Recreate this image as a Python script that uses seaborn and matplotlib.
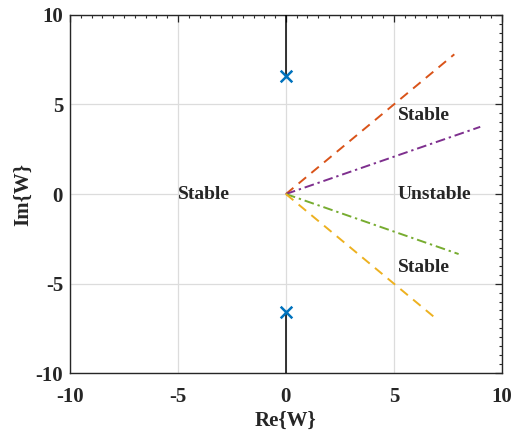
import matplotlib
matplotlib.use("Agg")
import matplotlib.pyplot as plt
import seaborn as sns
import numpy as np
from matplotlib.ticker import MultipleLocator

# Data
pole_re = [0, 0]
pole_im = [6.6, -6.6]
branch_up_re = [0, 0]
branch_up_im = [6.6, 10]
branch_dn_re = [0, 0]
branch_dn_im = [-6.6, -10]
orange_re = [0, 7.8]
orange_im = [0, 7.8]
purple_re = [0, 9.0]
purple_im = [0, 3.75]
green_re = [0, 8.0]
green_im = [0, -3.35]
yellow_re = [0, 7.0]
yellow_im = [0, -7.0]
labels = ["Stable", "Stable", "Unstable", "Stable"]
label_re = [-3.8, 6.4, 6.9, 6.4]
label_im = [0, 4.4, 0, -4.1]

sns.set_theme(style="white")
plt.rcParams['font.family'] = ['Liberation Serif', 'DejaVu Serif']
plt.rcParams['font.weight'] = 'bold'
plt.rcParams['axes.unicode_minus'] = False

fig = plt.figure(figsize=(5.11, 4.38), dpi=100)
ax = fig.add_axes([0.137, 0.148, 0.845, 0.818])

ax.grid(True, which='major', color='#dcdcdc', linewidth=0.9)
ax.set_axisbelow(True)

kw = dict(ax=ax, sort=False, estimator=None)
sns.lineplot(x=branch_up_re, y=branch_up_im, color='black', linewidth=1.1, zorder=3, **kw)
sns.lineplot(x=branch_dn_re, y=branch_dn_im, color='black', linewidth=1.1, zorder=3, **kw)
sns.lineplot(x=orange_re, y=orange_im, color='#D95319', linewidth=1.4, **kw)
ax.lines[-1].set_linestyle((0, (5, 3.5)))
sns.lineplot(x=purple_re, y=purple_im, color='#7E2F8E', linewidth=1.4, **kw)
ax.lines[-1].set_linestyle((0, (5, 2, 1.2, 2)))
sns.lineplot(x=green_re, y=green_im, color='#77AC30', linewidth=1.4, **kw)
ax.lines[-1].set_linestyle((0, (5, 2, 1.2, 2)))
sns.lineplot(x=yellow_re, y=yellow_im, color='#EDB120', linewidth=1.4, **kw)
ax.lines[-1].set_linestyle((0, (5, 3.5)))
sns.scatterplot(x=pole_re, y=pole_im, ax=ax, marker='x', color='#0072BD', s=70, linewidth=1.8, zorder=5)

for t, xr, yi in zip(labels, label_re, label_im):
    ax.text(xr, yi, t, ha='center', va='center', fontsize=14, fontweight='bold')

ax.set_xlim(-10, 10)
ax.set_ylim(-10, 10)
ax.xaxis.set_major_locator(MultipleLocator(5))
ax.yaxis.set_major_locator(MultipleLocator(5))
ax.xaxis.set_minor_locator(MultipleLocator(0.5))
ax.yaxis.set_minor_locator(MultipleLocator(0.5))
ax.tick_params(which='both', direction='in', top=True, right=True, color='#262626')
ax.tick_params(which='major', length=5, width=0.9, labelsize=15)
ax.tick_params(axis='x', which='major', pad=10)
ax.tick_params(axis='y', which='major', pad=5)
ax.tick_params(which='minor', length=2.5, width=0.8)
for lab in ax.get_xticklabels() + ax.get_yticklabels():
    lab.set_fontweight('bold')
for s in ax.spines.values():
    s.set_color('#262626')
    s.set_linewidth(1.0)

ax.set_xlabel('Re{W}', fontsize=15, fontweight='bold', labelpad=3)
ax.set_ylabel('Im{W}', fontsize=15, fontweight='bold', labelpad=2)

fig.savefig('out.png', dpi=100)
